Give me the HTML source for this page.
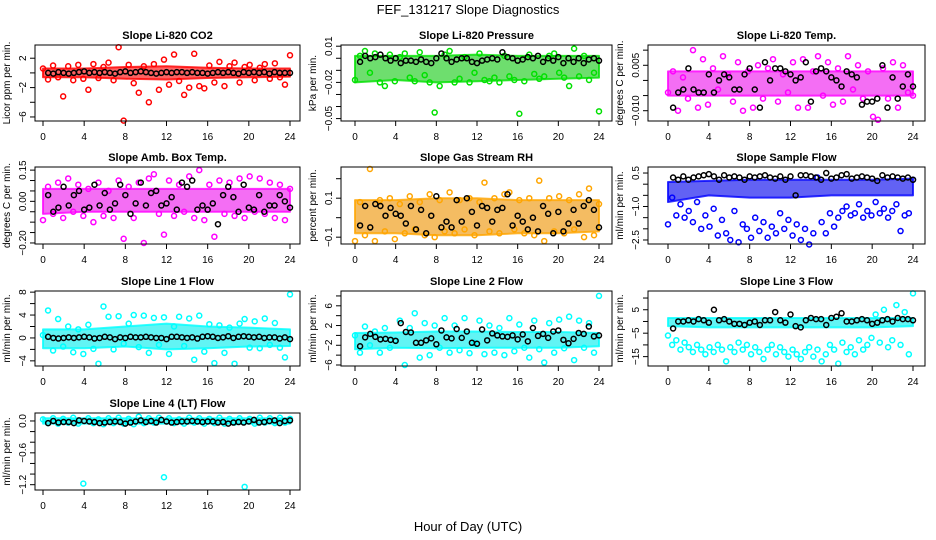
<!DOCTYPE html>
<html><head><meta charset="utf-8"><style>
html,body{margin:0;padding:0;background:#fff;}
svg{display:block;font-family:"Liberation Sans",sans-serif;}
</style></head><body>
<svg id="chart" width="936" height="540" viewBox="0 0 936 540">
<text x="468" y="14" text-anchor="middle" font-size="13">FEF_131217  Slope Diagnostics</text>
<text x="468" y="531" text-anchor="middle" font-size="13">Hour of Day (UTC)</text>
</svg>
<script>
const xTicks=[0,4,8,12,16,20,24];
const p1Scatter=[0.6,-0.9,1.0,-0.6,-3.2,0.9,-1.0,1.1,-0.8,-2.3,1.2,-0.7,0.8,1.4,-1.0,3.5,-6.5,1.1,-1.4,-2.7,0.9,-4.0,1.2,-2.3,1.8,-1.6,2.5,-1.1,-3.0,-2.0,2.6,-1.8,-2.1,1.0,-1.3,1.5,-1.8,0.9,1.4,-1.3,0.8,1.1,-1.0,0.7,1.2,-0.8,1.3,-0.6,-1.6,2.4];
const p1Black=[0,-0.1,0.1,0,-0.1,0,0.1,0.2,0,0.1,0,0.1,0,-0.1,0.1,0.2,0,0.1,0.2,0.1,0,-0.1,0,0.1,0,0.1,0.1,0,0.1,0,0,-0.1,0,0.1,0,0.1,0,-0.1,0.1,0,0.1,0,0.1,-0.1,0.1,0,0,0];
const p1BandLo=[-0.6,-0.6,-0.8,-0.9,-0.7,-0.6,-0.5];
const p1BandHi=[0.6,0.6,0.8,0.9,0.7,0.6,0.6];
const p1Ticks=[2,0,-2,-4,-6];
const p1Labels=[2,-2,-6];
const p2Scatter=[-0.018,0.002,0.006,-0.012,0.004,-0.02,-0.023,0.003,-0.019,0.001,0.004,-0.016,-0.019,0.005,-0.014,-0.02,-0.045,-0.023,0.003,0.006,-0.02,-0.017,0.001,-0.02,-0.012,0.004,-0.018,-0.019,-0.016,-0.02,0.002,-0.015,-0.018,-0.046,-0.019,0.003,-0.013,-0.017,-0.015,0.002,0.004,-0.012,-0.016,-0.023,0.008,-0.015,0.002,-0.018,-0.012,-0.044];
const p2Black=[-0.003,0.002,0,0.001,0.003,0,-0.002,0,-0.004,-0.002,-0.002,-0.003,-0.001,-0.003,-0.004,0,0.004,0,-0.003,-0.001,0,0,-0.003,-0.004,-0.002,-0.001,0,-0.001,0.005,0.001,0,-0.002,-0.001,0.001,0,0.002,-0.003,0,-0.002,0.001,-0.004,0,-0.003,0,-0.004,-0.001,0,-0.002];
const p2BandLo=[-0.02,-0.018,-0.02,-0.019,-0.018,-0.017,-0.016];
const p2BandHi=[0.002,0.002,0.002,0.003,0.002,0.002,0.002];
const p2Ticks=[0.01,0,-0.01,-0.02,-0.03,-0.04,-0.05];
const p2Labels=["0.01","-0.02","-0.05"];
const p3Scatter=[-0.004,0.003,-0.010,0.001,-0.006,0.010,-0.009,0.007,-0.008,0.004,-0.003,0.008,0.002,-0.007,0.006,-0.010,0.003,-0.009,0.005,-0.006,0.004,0.007,-0.007,0.002,-0.004,0.006,-0.009,0.007,-0.009,0.003,0.008,-0.005,0.006,-0.008,0.004,-0.007,0.008,-0.003,0.005,-0.006,0.003,-0.012,-0.013,0.004,-0.006,0.006,-0.009,0.005,-0.004,-0.005];
const p3Black=[-0.009,-0.004,-0.003,0.004,-0.003,-0.004,-0.004,0.002,-0.004,0,0.002,0.001,-0.003,-0.003,0.002,0.004,-0.003,-0.009,0.006,0,0.004,0.004,0.003,0.002,0,0.001,0.006,-0.007,0.003,0.004,0.003,0.001,0,-0.002,0.003,0.002,0.001,-0.008,-0.007,-0.007,-0.006,0.005,-0.009,0.001,-0.006,-0.002,0.002,-0.002];
const p3BandLo=[-0.005,-0.005,-0.005,-0.005,-0.005,-0.005,-0.005];
const p3BandHi=[0.003,0.003,0.003,0.003,0.003,0.003,0.003];
const p3Ticks=[0.01,0.005,0,-0.005,-0.01];
const p3Labels=["0.005","-0.010"];
const p4Scatter=[-0.09,0.07,-0.06,0.09,-0.08,0.11,-0.05,0.08,-0.07,0.06,-0.1,0.09,-0.07,0.05,-0.08,0.1,-0.18,0.07,-0.08,0.09,-0.2,0.11,0.13,-0.06,-0.16,0.1,-0.07,0.08,-0.05,0.12,-0.08,0.15,-0.09,0.08,-0.17,0.1,-0.06,0.09,-0.07,0.11,-0.08,0.12,-0.05,0.11,-0.06,0.09,-0.08,0.08,-0.09,0.06];
const p4Black=[0.03,-0.05,-0.03,0.07,-0.02,0.03,0.05,-0.04,-0.03,0.08,-0.02,0.04,-0.04,-0.01,0.08,0.03,-0.06,-0.01,0.09,-0.02,0.04,0.05,-0.02,-0.01,0.02,-0.04,0.09,0.07,0.1,-0.04,-0.02,-0.04,-0.01,-0.11,0.03,0.07,0.02,-0.05,0.08,-0.03,-0.04,0.03,-0.05,-0.02,-0.02,0.03,0.0,-0.03];
const p4BandLo=[-0.06,-0.05,-0.05,-0.05,-0.05,-0.05,-0.05];
const p4BandHi=[0.06,0.06,0.06,0.06,0.06,0.06,0.06];
const p4Ticks=[0.15,0.1,0.05,0,-0.05,-0.1,-0.15,-0.2];
const p4Labels=["0.15","0.00","-0.20"];
const p5Scatter=[-0.12,0.08,-0.09,0.25,-0.12,0.09,-0.07,0.1,-0.11,0.07,-0.08,0.11,-0.06,0.08,-0.09,0.12,-0.1,0.09,-0.07,0.13,-0.08,0.09,-0.06,0.1,-0.09,0.08,0.18,-0.07,0.1,-0.08,0.12,0.13,-0.06,0.09,-0.08,0.1,-0.09,0.19,-0.12,0.1,-0.07,0.11,-0.08,0.09,-0.06,0.12,-0.1,0.15,-0.09,0.07];
const p5Black=[-0.04,0.06,-0.05,0.07,0.06,0.01,0.05,0.02,0.01,-0.03,0.06,-0.06,0.04,-0.08,0.01,0.11,-0.05,-0.02,-0.05,0.09,-0.02,0.1,0.03,-0.04,0.06,0.05,-0.02,0.04,0.05,0.12,-0.04,0.01,-0.02,-0.06,0.0,-0.07,0.06,0.02,-0.08,0.03,-0.07,-0.03,0.04,-0.03,0.06,0.09,0.04,-0.05];
const p5BandLo=[-0.08,-0.08,-0.09,-0.09,-0.08,-0.08,-0.07];
const p5BandHi=[0.09,0.09,0.1,0.1,0.09,0.09,0.09];
const p5Ticks=[0.2,0.1,0,-0.1];
const p5Labels=["0.1","-0.1"];
const p6Scatter=[-1.8,-0.6,-1.4,-0.9,-1.5,-1.2,-1.7,-0.8,-2.0,-1.4,-1.9,-1.1,-2.3,-1.6,-2.2,-2.5,-1.2,-2.6,-1.8,-2.0,-2.4,-1.5,-2.1,-1.7,-2.4,-1.9,-2.2,-1.3,-2.0,-1.6,-2.3,-1.8,-2.5,-2.0,-2.7,-2.2,0.3,-1.7,-2.2,-1.3,-1.9,-1.5,-1.2,-1.0,-1.4,-1.3,-0.9,-1.5,-1.2,-1.4,-0.8,-1.3,-1.1,-1.5,-1.2,-0.9,-2.1,-1.4,-1.3,0.2];
const p6Black=[0.3,0.2,0.35,0.2,0.3,0.35,0.4,0.45,0.35,0.2,0.4,0.3,0.35,0.3,0.2,0.35,0.3,0.35,0.4,0.3,0.25,0.35,0.2,0.35,-0.5,0.4,0.4,0.35,0.3,0.2,0.5,0.25,0.3,0.4,0.45,0.25,0.3,0.35,0.3,0.25,0.15,0.4,0.3,0.35,0.3,0.25,0.3,0.2];
const p6BandLo=[-0.8,-0.5,-0.6,-0.6,-0.5,-0.5,-0.5];
const p6BandHi=[0.1,0.15,0.2,0.2,0.2,0.2,0.25];
const p6Ticks=[0.5,0,-0.5,-1,-1.5,-2,-2.5];
const p6Labels=["0.5","-1.0","-2.5"];
const p7Scatter=[0.5,4.8,-2.2,3.3,-1.5,2.0,-2.5,1.5,-2.8,2.3,-1.9,-4.5,5.5,3.7,-2.0,3.8,-1.0,2.5,4.0,-1.6,3.9,-2.6,3.5,-1.2,3.6,-2.8,2.0,3.7,-1.4,3.4,-3.8,3.9,-2.4,2.4,-4.4,2.2,-2.6,1.8,-4.5,2.5,3.3,-1.7,2.9,-1.8,3.4,-1.2,2.6,-1.7,-3.4,7.6];
const p7Black=[0.2,0,-0.1,0,0.1,0,0.1,0.2,0.1,-0.1,0,0.2,0.1,-0.2,0.1,0,0.2,0.1,0.1,0.2,0.1,0,0,-0.2,0.2,0.2,0.1,0,0.1,-0.1,0.2,0.3,0.2,0,0.1,0.3,0,0.2,0.3,0.2,0.1,0.2,0,0.1,0.1,-0.1,0.1,-0.2];
const p7BandLo=[-1.8,-1.8,-1.5,-2,-1.8,-1.5,-1.4];
const p7BandHi=[1.5,1.5,2,2.5,2,1.8,1.5];
const p7Ticks=[8,6,4,2,0,-2,-4];
const p7Labels=[8,4,0,-4];
const p8Scatter=[0,-3.5,1.8,-2.0,0.8,-3.5,1.5,-2.5,-1.0,3.0,-6.0,1.5,4.5,-4.5,2.5,-4.0,2.0,-2.5,3.5,-3.5,2.0,-3.0,3.5,-3.6,-1.5,3.0,-3.8,2.0,-3.5,1.5,-4.0,3.5,-3.2,2.2,-2.5,-4.5,3.0,-2.8,-5.5,2.5,-3.5,3.2,-2.6,3.8,-5.0,3.0,-2.5,2.5,-3.5,8.0];
const p8Black=[-2.2,-0.4,0.3,-0.3,-0.8,-0.7,-0.9,-1.1,2.5,0.7,0.6,-1.5,-1.5,-1.0,-0.6,-1.8,1.0,-0.4,-0.6,1.3,-0.5,0.8,-1.5,-1.7,1.2,-1.0,0.4,0.0,-0.2,-0.3,0.0,-0.8,0.2,-1.2,1.5,-0.1,0.3,-0.5,0.8,1.0,-0.9,-1.6,-0.7,0.5,0.3,1.8,-0.2,0.0];
const p8BandLo=[-2.8,-2.5,-2.6,-2.5,-2.5,-2.5,-2.2];
const p8BandHi=[0.5,0.6,0.8,0.8,0.7,0.7,0.5];
const p8Ticks=[8,6,4,2,0,-2,-4,-6];
const p8Labels=[6,2,-2,-6];
const p9Scatter=[-6,-10,-8,-12,-9,-11,-13,-10,-12,-14,-11,-13,-10,-12,-17,-11,-13,-9,-12,-10,-14,-11,-13,-16,-12,-10,-14,-11,-13,-15,-12,-14,-16,-13,-11,-15,-12,-17,-14,-10,-12,-18,-9,-13,-11,-14,-8,-12,-10,-7,3,-9,5,-11,-8,7,-10,4,-14,12];
const p9Black=[-3,0,0,0.5,0,1,0.5,-0.5,5,0.5,1,0,-1,-1,-1.5,-0.5,0,-1.5,0.5,0.5,4,0.5,-0.5,3,-2,-2.5,0.5,1.5,1,1,-1.5,1.5,2,3.5,0,0,0.5,1,0.5,-1,-0.5,0.5,1,0,1.5,1,1,0.5];
const p9BandLo=[-2,-2.5,-2.5,-2.5,-2.5,-2.5,-2];
const p9BandHi=[1.5,1.5,1.5,1.5,1.5,1.5,1.5];
const p9Ticks=[10,5,0,-5,-10,-15];
const p9Labels=[5,-5,-15];
const p10Scatter=[0.03,-0.04,0.05,-0.05,0.04,-0.03,0.06,-0.05,-1.18,0.05,-0.04,0.03,-0.06,0.05,-0.04,0.06,-0.05,0.04,-0.06,0.08,-0.04,0.05,-0.03,0.06,-1.06,0.05,-0.04,0.03,-0.05,0.06,-0.03,0.05,-0.05,0.04,-0.04,0.06,-0.05,0.04,-0.03,0.05,-1.24,0.04,-0.05,0.06,-0.03,0.05,-0.04,0.06,-0.03,0.04];
const p10Black=[-0.04,0.0,-0.03,-0.02,-0.02,-0.04,0.01,0.0,-0.01,-0.02,-0.04,-0.03,-0.02,-0.01,-0.02,-0.05,-0.03,-0.01,0.01,-0.02,0.0,-0.03,0.02,-0.01,-0.03,-0.02,-0.01,-0.01,0.0,-0.01,-0.02,-0.01,-0.01,-0.03,-0.02,-0.05,-0.03,-0.02,-0.03,-0.01,0.02,-0.03,-0.02,0.0,0.01,-0.04,0.0,0.01];
const p10BandLo=[-0.05,-0.05,-0.05,-0.05,-0.05,-0.05,-0.05];
const p10BandHi=[0.05,0.05,0.05,0.05,0.05,0.05,0.05];
const p10Ticks=[0,-0.2,-0.4,-0.6,-0.8,-1.0,-1.2];
const p10Labels=["0.0","-0.6","-1.2"];

const NS="http://www.w3.org/2000/svg";
const svg=document.getElementById('chart');
function mk(tag,attrs,parent){const e=document.createElementNS(NS,tag);for(const k in attrs)e.setAttribute(k,attrs[k]);(parent||svg).appendChild(e);return e;}
const cols=[{l:35,r:300,x0:43,x1:290},{l:341,r:612,x0:355,x1:599},{l:648,r:925,x0:668,x1:913}];
const rows=[{t:45,b:121},{t:167,b:244},{t:291,b:366},{t:413,b:490}];
const panels=[
 {title:"Slope Li-820 CO2",yt:"Licor ppm per min.",c:0,r:0,min:-6.55,max:3.8,col:"#ff0000",band:"#ff2020",s:p1Scatter,k:p1Black,lo:p1BandLo,hi:p1BandHi,ticks:p1Ticks,labels:p1Labels},
 {title:"Slope Li-820 Pressure",yt:"kPa per min.",c:1,r:0,min:-0.052,max:0.011,col:"#00e000",band:"#30d030",s:p2Scatter,k:p2Black,lo:p2BandLo,hi:p2BandHi,ticks:p2Ticks,labels:p2Labels},
 {title:"Slope Li-820 Temp.",yt:"degrees C per min.",c:2,r:0,min:-0.0134,max:0.0117,col:"#ff00ff",band:"#f030f0",s:p3Scatter,k:p3Black,lo:p3BandLo,hi:p3BandHi,ticks:p3Ticks,labels:p3Labels},
 {title:"Slope Amb. Box Temp.",yt:"degrees C per min.",c:0,r:1,min:-0.205,max:0.165,col:"#ff00ff",band:"#f030f0",s:p4Scatter,k:p4Black,lo:p4BandLo,hi:p4BandHi,ticks:p4Ticks,labels:p4Labels},
 {title:"Slope Gas Stream RH",yt:"percent per min.",c:1,r:1,min:-0.135,max:0.26,col:"#ffa500",band:"#f0a020",s:p5Scatter,k:p5Black,lo:p5BandLo,hi:p5BandHi,ticks:p5Ticks,labels:p5Labels},
 {title:"Slope Sample Flow",yt:"ml/min per min.",c:2,r:1,min:-2.68,max:0.77,col:"#0000ff",band:"#2020f0",s:p6Scatter,k:p6Black,lo:p6BandLo,hi:p6BandHi,ticks:p6Ticks,labels:p6Labels},
 {title:"Slope Line 1 Flow",yt:"ml/min per min.",c:0,r:2,min:-4.9,max:8.2,col:"#00ffff",band:"#20f0f0",s:p7Scatter,k:p7Black,lo:p7BandLo,hi:p7BandHi,ticks:p7Ticks,labels:p7Labels},
 {title:"Slope Line 2 Flow",yt:"ml/min per min.",c:1,r:2,min:-6.2,max:9,col:"#00ffff",band:"#20f0f0",s:p8Scatter,k:p8Black,lo:p8BandLo,hi:p8BandHi,ticks:p8Ticks,labels:p8Labels},
 {title:"Slope Line 3 Flow",yt:"ml/min per min.",c:2,r:2,min:-19,max:13,col:"#00ffff",band:"#20f0f0",s:p9Scatter,k:p9Black,lo:p9BandLo,hi:p9BandHi,ticks:p9Ticks,labels:p9Labels},
 {title:"Slope Line 4 (LT) Flow",yt:"ml/min per min.",c:0,r:3,min:-1.3,max:0.15,col:"#00ffff",band:"#20f0f0",s:p10Scatter,k:p10Black,lo:p10BandLo,hi:p10BandHi,ticks:p10Ticks,labels:p10Labels}
];
panels.forEach((p,pi)=>{
 const C=cols[p.c],R=rows[p.r];
 const xs=h=>C.x0+(C.x1-C.x0)*h/24;
 const ys=v=>R.b-(v-p.min)/(p.max-p.min)*(R.b-R.t);
 const g=mk('g',{});
 
 
 const tt=mk('text',{x:(C.l+C.r)/2,y:R.t-6,'text-anchor':'middle','font-size':11,'font-weight':'bold'},g);
 tt.textContent=p.title;
 
 
 let pts=[];
 p.hi.forEach((v,i)=>pts.push(xs(i*4)+','+ys(v)));
 for(let i=p.lo.length-1;i>=0;i--)pts.push(xs(i*4)+','+ys(p.lo[i]));
 const band=mk('polygon',{points:pts.join(' '),fill:p.band,'fill-opacity':0.7,stroke:p.col,'stroke-width':2,'stroke-opacity':0.8,'stroke-linejoin':'round'},g);
 
 
 const n=p.s.length;
 p.s.forEach((v,i)=>{
  const c=mk('circle',{cx:xs(i*24/(n-1)),cy:ys(v),r:2.5,fill:'none',stroke:p.col,'stroke-width':1.5},g);
  
  
 });
 p.k.forEach((v,i)=>{
  const c=mk('circle',{cx:xs(0.5*(i+1)),cy:ys(v),r:2.5,fill:'none',stroke:'#000','stroke-width':1.5},g);
  
  
 });
 const box=mk('rect',{x:C.l,y:R.t,width:C.r-C.l,height:R.b-R.t,fill:'none',stroke:'#000','stroke-width':1},g);
 
 
 xTicks.forEach(h=>{
  mk('line',{x1:xs(h),x2:xs(h),y1:R.b,y2:R.b+5,stroke:'#000'},g);
  const t=mk('text',{x:xs(h),y:R.b+19,'text-anchor':'middle','font-size':10},g);
  t.textContent=h;
  
  
 });
 p.ticks.forEach(v=>mk('line',{x1:C.l-5,x2:C.l,y1:ys(v),y2:ys(v),stroke:'#000'},g));
 p.labels.forEach(v=>{
  const y=ys(Number(v)),x=C.l-9;
  const t=mk('text',{x:x,y:y,'text-anchor':'middle','font-size':10,transform:`rotate(-90 ${x} ${y})`},g);
  t.textContent=String(v).replace('-','\u2212');
  
  
 });
 const yx=C.l-25,yy=(R.t+R.b)/2;
 const yt=mk('text',{x:yx,y:yy,'text-anchor':'middle','font-size':10,transform:`rotate(-90 ${yx} ${yy})`},g);
 yt.textContent=p.yt;
 
 
});
</script>
</body></html>
